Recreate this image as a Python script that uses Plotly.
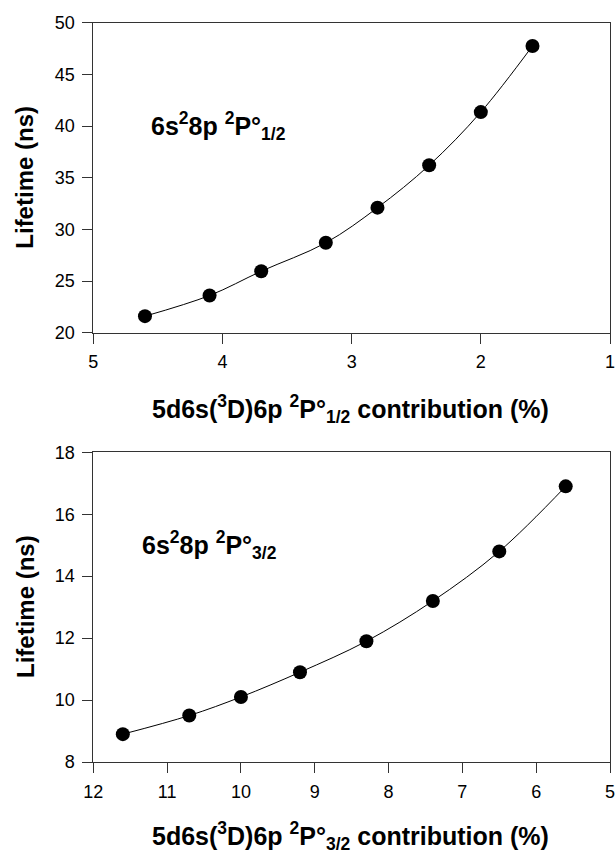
import plotly.graph_objects as go

# Data
x_half = [4.6, 4.1, 3.7, 3.2, 2.8, 2.4, 2.0, 1.6]
y_half = [21.6, 23.6, 25.95, 28.7, 32.1, 36.2, 41.35, 47.75]

x_three = [11.6, 10.7, 10.0, 9.2, 8.3, 7.4, 6.5, 5.6]
y_three = [8.9, 9.5, 10.1, 10.9, 11.9, 13.2, 14.8, 16.9]

xticks_top = [5, 4, 3, 2, 1]
yticks_top = [20, 25, 30, 35, 40, 45, 50]
xticks_bot = [12, 11, 10, 9, 8, 7, 6, 5]
yticks_bot = [8, 10, 12, 14, 16, 18]

W, H = 616, 853
FONT = "Liberation Sans, Arial, sans-serif"

fig = go.Figure()

for xs, ys, xa, ya in [(x_half, y_half, "x", "y"), (x_three, y_three, "x2", "y2")]:
    fig.add_trace(go.Scatter(
        x=xs, y=ys, xaxis=xa, yaxis=ya,
        mode="lines+markers",
        line=dict(color="black", width=1, shape="spline", smoothing=1.0),
        marker=dict(color="black", size=14, line=dict(width=0)),
        showlegend=False, hoverinfo="skip", cliponaxis=False,
    ))

def px_x(p):
    return p / W

def px_y(p):
    return 1 - p / H

axis_common = dict(
    showline=True, linecolor="#333333", linewidth=1, mirror=True,
    ticks="outside", ticklen=10, tickwidth=1, tickcolor="#333333",
    showgrid=False, zeroline=False,
    tickfont=dict(family=FONT, size=18, color="black"),
)

xdom = [px_x(93.3), px_x(610)]

fig.update_layout(
    width=W, height=H,
    margin=dict(l=0, r=0, t=0, b=0, autoexpand=False),
    paper_bgcolor="white", plot_bgcolor="white",
    xaxis=dict(domain=xdom, range=[5, 1], tickvals=xticks_top, anchor="y",
               ticklabelstandoff=3, **axis_common),
    yaxis=dict(domain=[px_y(332.7), px_y(22.7)], range=[20, 50], tickvals=yticks_top,
               anchor="x", ticklabelstandoff=4, **axis_common),
    xaxis2=dict(domain=xdom, range=[12, 5], tickvals=xticks_bot, anchor="y2",
                ticklabelstandoff=3, **axis_common),
    yaxis2=dict(domain=[px_y(762), px_y(452.3)], range=[8, 18], tickvals=yticks_bot,
                anchor="x2", ticklabelstandoff=4, **axis_common),
)

ytitle_font = dict(family=FONT, size=24, color="black")
xtitle_font = dict(family=FONT, size=25, color="black")
label_font = dict(family=FONT, size=25, color="black")

annotations = [
    # y-axis titles
    dict(text="<b>Lifetime (ns)</b>", x=px_x(25), y=px_y(177.7), textangle=-90,
         font=ytitle_font),
    dict(text="<b>Lifetime (ns)</b>", x=px_x(25), y=px_y(607), textangle=-90,
         font=ytitle_font),
    # x-axis titles
    dict(text="<b>5d6s(<sup>3</sup>D)6p <sup>2</sup>P°<sub>1/2</sub> contribution (%)</b>",
         x=px_x(350), y=px_y(409), font=xtitle_font),
    dict(text="<b>5d6s(<sup>3</sup>D)6p <sup>2</sup>P°<sub>3/2</sub> contribution (%)</b>",
         x=px_x(350), y=px_y(836), font=xtitle_font),
    # in-plot labels
    dict(text="<b>6s<sup>2</sup>8p <sup>2</sup>P°<sub>1/2</sub></b>", x=px_x(149), y=px_y(126),
         xanchor="left", font=label_font),
    dict(text="<b>6s<sup>2</sup>8p <sup>2</sup>P°<sub>3/2</sub></b>", x=px_x(140), y=px_y(545),
         xanchor="left", font=label_font),
]
for a in annotations:
    a.update(xref="paper", yref="paper", showarrow=False)
    a.setdefault("xanchor", "center")
    a.setdefault("yanchor", "middle")
fig.update_layout(annotations=annotations)

fig.write_html(
    "out.html",
    config={"displayModeBar": False},
    post_script="document.body.style.margin='0px';document.body.style.overflow='hidden';",
)
